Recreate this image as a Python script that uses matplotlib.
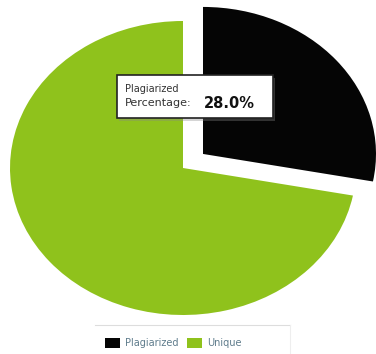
import matplotlib.pyplot as plt
from matplotlib.patches import FancyBboxPatch
from matplotlib.lines import Line2D

# share of the document
labels = ["Plagiarized", "Unique"]
shares = [28.0, 72.0]
colors = ["#050505", "#8fc21c"]
explode = [0.15, 0.0]

W, H = 376, 354
fig = plt.figure(figsize=(W / 100, H / 100), dpi=100)
fig.patch.set_facecolor("white")

ax = fig.add_axes([0, 0, 1, 1])
wedges, _ = ax.pie(shares, colors=colors, explode=explode, startangle=90,
                   counterclock=False, radius=1.0,
                   wedgeprops=dict(linewidth=0))

# pie is drawn slightly wider than tall
cx, cy, rx, ry = 183, 168, 173, 147
ax.set_aspect("auto")
ax.set_xlim(-cx / rx, (W - cx) / rx)
ax.set_ylim((cy - H) / ry, cy / ry)
ax.axis("off")

# hover tooltip
x0, y0, x1, y1 = 117, 75, 273, 118
shadow = FancyBboxPatch((x0 / W + 0.006, 1 - y1 / H - 0.008),
                        (x1 - x0) / W, (y1 - y0) / H,
                        boxstyle="square,pad=0", transform=fig.transFigure,
                        facecolor="#888888", edgecolor="none", alpha=0.35)
box = FancyBboxPatch((x0 / W, 1 - y1 / H), (x1 - x0) / W, (y1 - y0) / H,
                     boxstyle="square,pad=0", transform=fig.transFigure,
                     facecolor="white", edgecolor="#222222", linewidth=1.2)
fig.patches.extend([shadow, box])
fig.text(125 / W, 1 - 89 / H, labels[0], fontsize=7, color="#333333",
         va="center", ha="left")
fig.text(125 / W, 1 - 103 / H, "Percentage:", fontsize=8, color="#333333",
         va="center", ha="left")
fig.text(204 / W, 1 - 103 / H, f"{shares[0]:.1f}%", fontsize=10.5,
         fontweight="bold", color="#111111", va="center", ha="left")

# legend strip with a thin separator above it
fig.add_artist(Line2D([95 / W, 290 / W], [1 - 325 / H, 1 - 325 / H],
                      transform=fig.transFigure, color="#dddddd", lw=0.8))
fig.add_artist(Line2D([290 / W, 290 / W], [1 - 325 / H, 0],
                      transform=fig.transFigure, color="#eeeeee", lw=0.8))
leg = fig.legend(wedges, labels, loc="center left", ncol=2,
                 bbox_to_anchor=(98 / W, 1 - 343 / H), fontsize=7,
                 frameon=False, labelcolor="#5f7c8c", handlelength=1.6,
                 handleheight=1.2, handletextpad=0.5, columnspacing=0.8,
                 borderpad=0.2)

fig.savefig("out.png", dpi=100, facecolor="white")
